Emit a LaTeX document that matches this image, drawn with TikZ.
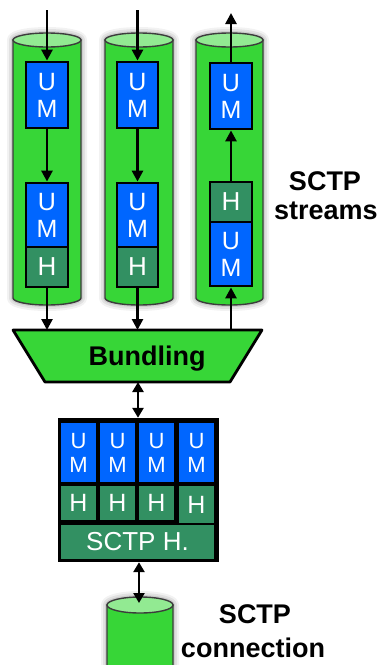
\documentclass[tikz,border=0pt]{standalone}
\usepackage{fontspec}
\setmainfont{Liberation Sans}
\usetikzlibrary{arrows.meta}
\definecolor{cylgreen}{RGB}{55,214,55}
\definecolor{cyltop}{RGB}{146,234,146}
\definecolor{cylline}{RGB}{60,60,60}
\definecolor{umblue}{RGB}{0,102,255}
\definecolor{hgreen}{RGB}{50,144,98}
\newcommand\mycylpath[5]{(#1,#3) -- (#1,#4)
    arc[start angle=180,end angle=0,x radius={(#2-#1)/2},y radius=#5] -- (#2,#3)
    arc[start angle=0,end angle=-180,x radius={(#2-#1)/2},y radius=#5] -- cycle}
\newcommand\mycyl[5]{%
  \foreach \w/\o in {12/0.05,8/0.07,4/0.09}{
    \path[draw=black,opacity=\o,line width=\w pt,line join=round] \mycylpath{#1}{#2}{#3}{#4}{#5};}
  \path[fill=cylgreen,draw=cylline,line width=1.4pt] (#1,#3) -- (#1,#4)
    arc[start angle=180,end angle=0,x radius={(#2-#1)/2},y radius=#5] -- (#2,#3) -- cycle;
  \path[fill=cyltop,draw=cylline,line width=1.4pt] ({(#1+#2)/2},#3) ellipse[x radius={(#2-#1)/2},y radius=#5];
}
\begin{document}
\begin{tikzpicture}[x=1pt,y=-1pt,
  um/.style={draw=black,line width=2.8pt,fill=umblue,text=white,inner sep=0pt,
    minimum width=42pt,minimum height=66pt,align=center,
    font=\fontsize{25}{27}\selectfont},
  hh/.style={draw=black,line width=2.8pt,fill=hgreen,text=white,inner sep=0pt,
    minimum width=42pt,minimum height=40pt,font=\fontsize{26}{27}\selectfont},
  cellu/.style={fill=umblue,text=white,inner sep=0pt,minimum width=35pt,minimum height=59pt,
    align=center,font=\fontsize{22}{24}\selectfont},
  cellh/.style={fill=hgreen,text=white,inner sep=0pt,minimum width=35pt,minimum height=34pt,
    font=\fontsize{25}{27}\selectfont},
  arr/.style={line width=2.6pt,-{Triangle[length=11pt,width=11pt]}},
  darr/.style={line width=2.6pt,{Triangle[length=10pt,width=11pt]}-{Triangle[length=10pt,width=11pt]}},
  lbl/.style={font=\bfseries\fontsize{27}{30}\selectfont,inner sep=0pt}]
\useasboundingbox (0,0) rectangle (378,665);
\clip (0,0) rectangle (378,665);
% stream cylinders
\mycyl{13}{81}{40}{298}{7}
\mycyl{105}{173}{40}{298}{7}
\mycyl{196}{263}{40}{298}{7}
% column 1
\node[um] (a1) at (47,95) {U\\M};
\node[um,minimum height=64pt] (b1u) at (47,215) {U\\M};
\node[hh] (b1h) at (47,267) {H};
% column 2
\node[um,minimum width=41pt] (a2) at (137.5,95) {U\\M};
\node[um,minimum width=41pt,minimum height=64pt] (b2u) at (137.5,215) {U\\M};
\node[hh,minimum width=41pt] (b2h) at (137.5,267) {H};
% column 3
\node[um] (a3) at (231,96) {U\\M};
\node[hh] (c3h) at (231,202) {H};
\node[um,minimum height=64pt] (c3u) at (231,254) {U\\M};
% bundling
\path[fill=cylgreen,draw=black,line width=2.8pt,line join=round]
  (13,330) -- (262,330) -- (230,382) -- (45,382) -- cycle;
\coordinate (bt) at (137.5,330);
\coordinate (bb) at (138,382);
\node[lbl,anchor=base] (bund) at (147,365) {Bundling};
% arrows in streams
\coordinate (in1) at (47,10);
\coordinate (in2) at (137.5,10);
\coordinate (out3) at (231,13);
\draw[arr] (in1) -- (a1);
\draw[arr] (a1) -- (b1u);
\draw[arr] (b1h) -- (b1h |- bt);
\draw[arr] (in2) -- (a2);
\draw[arr] (a2) -- (b2u);
\draw[arr] (b2h) -- (b2h |- bt);
\draw[arr] (c3u |- bt) -- (c3u);
\draw[arr] (c3h) -- (a3);
\draw[arr] (a3) -- (out3);
% bundled packet
\node[fill=black,inner sep=0pt,minimum width=161pt,minimum height=144pt] (big) at (138,490) {};
\node[cellu] (u1) at (78.5,452.5) {U\\M};
\node[cellu] (u2) at (117.5,452.5) {U\\M};
\node[cellu] (u3) at (156.5,452.5) {U\\M};
\node[cellu] (u4) at (196.5,452.5) {U\\M};
\node[cellh] (h1) at (78.5,503) {H};
\node[cellh] (h2) at (117.5,503) {H};
\node[cellh] (h3) at (156.5,503) {H};
\node[cellh,minimum height=37pt] (h4) at (196.5,504.5) {H};
\node[cellh,minimum width=153pt,font=\fontsize{26}{27}\selectfont] (sh) at (137.5,542) {SCTP H.};
\draw[darr] (bb) -- (big.north);
% connection cylinder
\mycyl{107}{173}{605}{720}{8}
\coordinate (conn) at (139,603);
\draw[darr] (big.south -| conn) -- (conn);
% labels
\node[lbl,anchor=base] (s1) at (325,190) {SCTP};
\node[lbl,anchor=base] (s2) at (326,219) {streams};
\node[lbl,anchor=base] (c1) at (255,623) {SCTP};
\node[lbl,anchor=base] (c2) at (253,657) {connection};
\end{tikzpicture}
\end{document}
